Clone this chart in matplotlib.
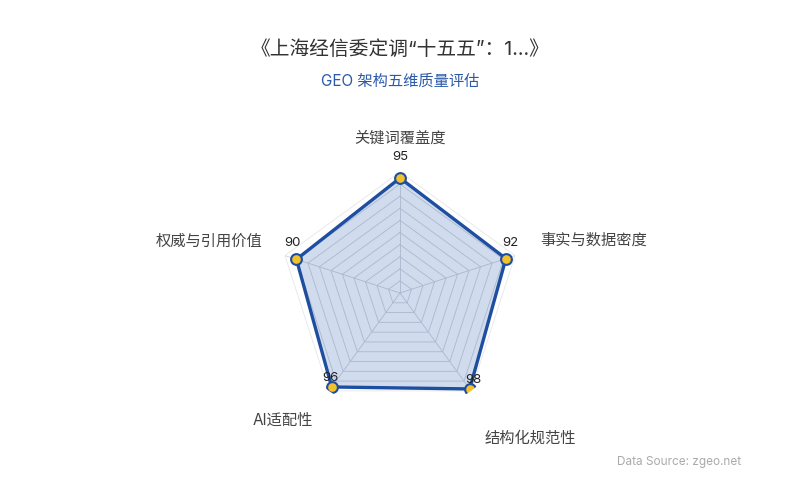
import numpy as np
import matplotlib
matplotlib.use("Agg")
import matplotlib.pyplot as plt

plt.rcParams['font.family'] = ['Inter', 'Noto Sans CJK SC', 'DejaVu Sans']

# 数据
categories = ['关键词覆盖度', '事实与数据密度', '结构化规范性', 'AI适配性', '权威与引用价值']
values = [95, 92, 98, 96, 90]
title = '《上海经信委定调“十五五”：1...》'
subtitle = 'GEO 架构五维质量评估'
source = 'Data Source: zgeo.net'

line_col = '#1e4ea0'
fill_col = '#2c5cb0'
dot_col = '#f2c12e'

fig = plt.figure(figsize=(8, 5), dpi=100)
ax = fig.add_axes([0.34875, 0.172, 0.3025, 0.484], polar=True)

n = len(categories)
# clockwise from the top
ang = np.pi / 2 - np.arange(n) * 2 * np.pi / n
ang_c = np.append(ang, ang[0])
vals_c = np.append(values, values[0])

# polygon grid
for lvl in range(10, 101, 10):
    c = '#e6e6e6' if lvl == 100 else '#cfd2d8'
    ax.plot(ang_c, [lvl] * (n + 1), color=c, lw=0.6, zorder=1)
for a in ang:
    ax.plot([a, a], [0, 100], color='#cfd2d8', lw=0.6, zorder=1)

ax.fill(ang_c, vals_c, color=fill_col, alpha=0.22, lw=0, zorder=2)
ax.plot(ang_c, vals_c, color=line_col, lw=2.4, zorder=3)
ax.scatter(ang, values, s=60, color=dot_col, edgecolor=line_col, linewidth=1.5, zorder=4)

# value labels
offs = [(0, 15), (3, 11.5), (3, 6.5), (-1, 6.5), (-3, 11.5)]
for a, v, o in zip(ang, values, offs):
    ax.annotate(str(v), (a, v), xytext=o, textcoords='offset points',
                ha='center', va='center', fontsize=9.5, color='#222', zorder=5)

ax.set_ylim(0, 100)
ax.set_xticks([])
ax.set_yticks([])
ax.spines['polar'].set_visible(False)
ax.grid(False)
ax.set_facecolor('none')

# axis names
lab_pos = [(400, 138, 'center'), (540, 240, 'left'), (485, 438, 'left'),
           (313, 420, 'right'), (262, 241, 'right')]
for name, (x, y, ha) in zip(categories, lab_pos):
    fig.text(x / 800, 1 - y / 500, name, ha=ha, va='center', fontsize=11, color='#444')

fig.text(0.5, 1 - 50 / 500, title, ha='center', va='center', fontsize=14.2, color='#333')
fig.text(0.5, 1 - 81 / 500, subtitle, ha='center', va='center', fontsize=11, color='#2b5aa8')
fig.text(741 / 800, 1 - 462 / 500, source, ha='right', va='center', fontsize=8.5, color='#aaaaaa')

fig.savefig('out.png', dpi=100, facecolor='white')
